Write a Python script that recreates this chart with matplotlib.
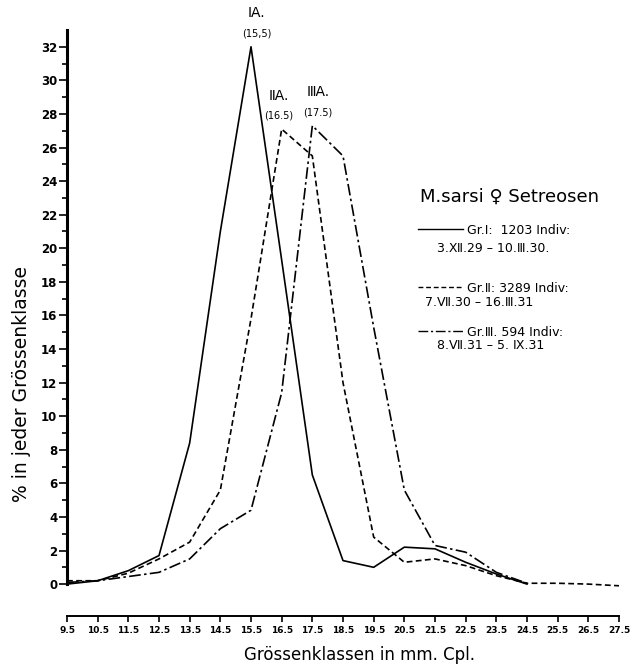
import numpy as np
import matplotlib.pyplot as plt
from matplotlib.lines import Line2D

# size classes (mm Cpl.)
classes = [9.5, 10.5, 11.5, 12.5, 13.5, 14.5, 15.5, 16.5, 17.5, 18.5,
           19.5, 20.5, 21.5, 22.5, 23.5, 24.5, 25.5, 26.5, 27.5]

# % per size class
gr1 = [0.0, 0.2, 0.8, 1.7, 8.4, 21.0, 32.0, 19.3, 6.5, 1.4,
       1.0, 2.2, 2.1, 1.3, 0.6, 0.0]
gr2 = [0.2, 0.2, 0.65, 1.5, 2.5, 5.6, 15.8, 27.1, 25.5, 12.0,
       2.8, 1.3, 1.5, 1.1, 0.5, 0.05, 0.05, 0.0, -0.1]
gr3 = [0.1, 0.2, 0.45, 0.7, 1.5, 3.3, 4.4, 11.4, 27.3, 25.5,
       15.3, 5.6, 2.3, 1.9, 0.7, 0.05]

x_ticklabels = ["9.5", "10.5", "11.5", "12.5", "13.5", "14.5", "15.5", "16.5",
                "17.5", "18.5", "19.5", "20.5", "21.5", "22.5", "23.5", "24.5",
                "25.5", "26.5", "27.5"]

peak_names = ["\u2160A.", "\u2161A.", "\u2162A."]
peak_sizes = ["(15,5)", "(16.5)", "(17.5)"]

legend_head = ["Gr.\u2160:  1203 Indiv:", "Gr.\u2161: 3289 Indiv:", "Gr.\u2162. 594 Indiv:"]
legend_dates = ["3.\u216b.29 \u2013 10.\u2162.30.", "7.\u2166.30 \u2013 16.\u2162.31",
                "8.\u2166.31 \u2013 5. \u2168.31"]

fig = plt.figure(figsize=(6.33, 6.70), dpi=100)
ax = fig.add_axes([67/633, 54/670, (619-67)/633, (640-54)/670])

styles = ["-", (0, (3.5, 2)), (0, (7, 2, 1.5, 2))]
for vals, ls in zip([gr1, gr2, gr3], styles):
    ax.plot(classes[:len(vals)], vals, color="black", lw=1.2, linestyle=ls)

# peak labels
dxs = [4, -2, 4]
for vals, name, size, dx in zip([gr1, gr2, gr3], peak_names, peak_sizes, dxs):
    i = int(np.argmax(vals))
    ax.annotate(name, (classes[i], vals[i]), xytext=(dx, 19), textcoords="offset points",
                ha="center", va="bottom", fontsize=10)
    ax.annotate(size, (classes[i], vals[i]), xytext=(dx, 6), textcoords="offset points",
                ha="center", va="bottom", fontsize=7)

ax.set_xlim(9.5, 27.5)
ax.set_ylim(-1.9, 33)
ax.set_yticks(np.arange(0, 33, 2))
ax.set_yticks(np.arange(1, 33, 2), minor=True)
ax.set_xticks(classes)
ax.set_xticklabels(x_ticklabels, fontsize=6.5, fontweight="bold")
for lab in ax.get_yticklabels():
    lab.set_fontsize(8.5)
    lab.set_fontweight("bold")

for s in ["top", "right"]:
    ax.spines[s].set_visible(False)
ax.spines["left"].set_bounds(0, 33)
ax.spines["left"].set_linewidth(2.2)
ax.spines["bottom"].set_bounds(9.5, 27.5)
ax.spines["bottom"].set_linewidth(1.4)
ax.tick_params(axis="y", which="major", length=6, width=1.2, pad=1)
ax.tick_params(axis="y", which="minor", length=3.5, width=1.2)
ax.tick_params(axis="x", length=4, width=1.2, pad=3)

fig.text(22/633, 1 - 384/670, "% in jeder Grössenklasse", rotation=90,
         ha="center", va="center", fontsize=13.5)
fig.text(360/633, 1 - 655/670, "Grössenklassen in mm. Cpl.",
         ha="center", va="center", fontsize=12)

# legend block
fig.text(510/633, 1 - 197/670, "M.sarsi \u2640 Setreosen", ha="center", va="center",
         fontsize=13)
head_y = [230, 288, 332]
date_y = [248, 303, 345]
date_x = [437, 425, 437]
for ls, head, date, hy, dy, dxp in zip(styles, legend_head, legend_dates, head_y, date_y, date_x):
    h = Line2D([], [], color="black", lw=1.0, linestyle=ls)
    fig.legend([h], [head], loc="center left", bbox_to_anchor=(418/633, 1 - hy/670),
               frameon=False, fontsize=9, handlelength=3.6, handletextpad=0.3,
               borderpad=0, borderaxespad=0)
    fig.text(dxp/633, 1 - dy/670, date, ha="left", va="center", fontsize=9)

fig.savefig("out.png", dpi=100)
